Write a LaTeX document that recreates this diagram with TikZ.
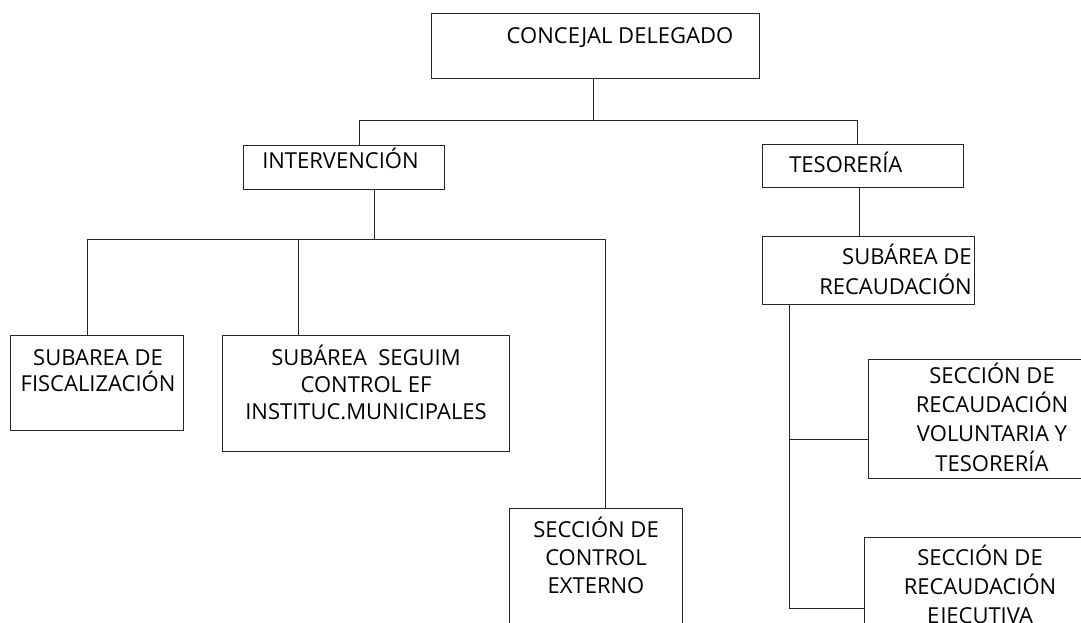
\documentclass[tikz,border=0pt]{standalone}
\usepackage{fontspec}
\setmainfont{Open Sans}
\usetikzlibrary{fit}

\begin{document}
\begin{tikzpicture}[x=0.75pt,y=0.75pt,yscale=-1,xscale=1,
  box/.style={draw=black!85, line width=0.75pt, inner sep=0pt},
  txt/.style={font=\fontsize{16.5}{#1}\selectfont, inner sep=0pt, align=center, anchor=base},
  txt/.default=21,
  link/.style={draw=black!85, line width=0.75pt}]
%set diagram left start at 0, and has height of 622
\useasboundingbox (0,0) rectangle (1081,622);
\clip (0,0) rectangle (1081,622);

%Shape: Rectangle [concejal]
\node [box, fit={(431,13) (759,78)}] (cd) {};
%Shape: Rectangle [intervencion]
\node [box, fit={(243,145) (444,189)}] (int) {};
%Shape: Rectangle [tesoreria]
\node [box, fit={(762,144) (963,187)}] (tes) {};
%Shape: Rectangle [fiscalizacion]
\node [box, fit={(10,335) (183,430)}] (fis) {};
%Shape: Rectangle [seguimiento]
\node [box, fit={(222,335) (509,451)}] (seg) {};
%Shape: Rectangle [control externo]
\node [box, fit={(509,508) (682,660)}] (ext) {};
%Shape: Rectangle [recaudacion]
\node [box, fit={(762,236) (974,304)}] (rec) {};
%Shape: Rectangle [voluntaria]
\node [box, fit={(868,359) (1100,478)}] (vol) {};
%Shape: Rectangle [ejecutiva]
\node [box, fit={(864,537) (1100,680)}] (eje) {};

%Coordinates of the branch points
\coordinate (j0) at (593,120);
\coordinate (t1) at (359,120);
\coordinate (t2) at (857,120);
\coordinate (j1) at (374,239);
\coordinate (k1) at (87,239);
\coordinate (k2) at (298,239);
\coordinate (k3) at (605,239);
\coordinate (k4) at (859,210);
\coordinate (r1) at (789,439);
\coordinate (r2) at (789,608);

%Straight Lines
\draw [link] (cd.south -| j0) -- (j0);
\draw [link] (int.north -| t1) |- (t2) -- (tes.north -| t2);
\draw [link] (int.south -| j1) -- (j1);
\draw [link] (fis.north -| k1) |- (k3) -- (ext.north -| k3);
\draw [link] (k2) -- (seg.north -| k2);
\draw [link] (tes.south -| k4) -- (rec.north -| k4);
\draw [link] (rec.south -| r2) -- (r2) -- (r2 -| eje.west);
\draw [link] (r1) -- (r1 -| vol.west);

% Text Node (multi-line nodes sit on the baseline of their last line)
\node [txt] (cdt) at (620,43) {CONCEJAL DELEGADO};
% Text Node
\node [txt, anchor=base west] (intt) at (262,168) {INTERVENCIÓN};
% Text Node
\node [txt, anchor=base west] (test) at (789,172) {TESORERÍA};
% Text Node
\node [txt=22.5, align=right, anchor=base east] (rect) at (972,294) {SUBÁREA DE\\RECAUDACIÓN};
% Text Node
\node [txt=19.5] (fist) at (98,391) {SUBAREA DE\\FISCALIZACIÓN};
% Text Node
\node [txt=20.25] (segt) at (366,419) {SUBÁREA\ \ SEGUIM\\CONTROL EF\\INSTITUC.MUNICIPALES};
% Text Node
\node [txt] (extt) at (596,593) {SECCIÓN DE\\CONTROL\\EXTERNO};
% Text Node
\node [txt=22] (volt) at (992,471) {SECCIÓN DE\\RECAUDACIÓN\\VOLUNTARIA Y\\TESORERÍA};
% Text Node
\node [txt=21.75] (ejet) at (980,623) {SECCIÓN DE\\RECAUDACIÓN\\EJECUTIVA};

\end{tikzpicture}
\end{document}
